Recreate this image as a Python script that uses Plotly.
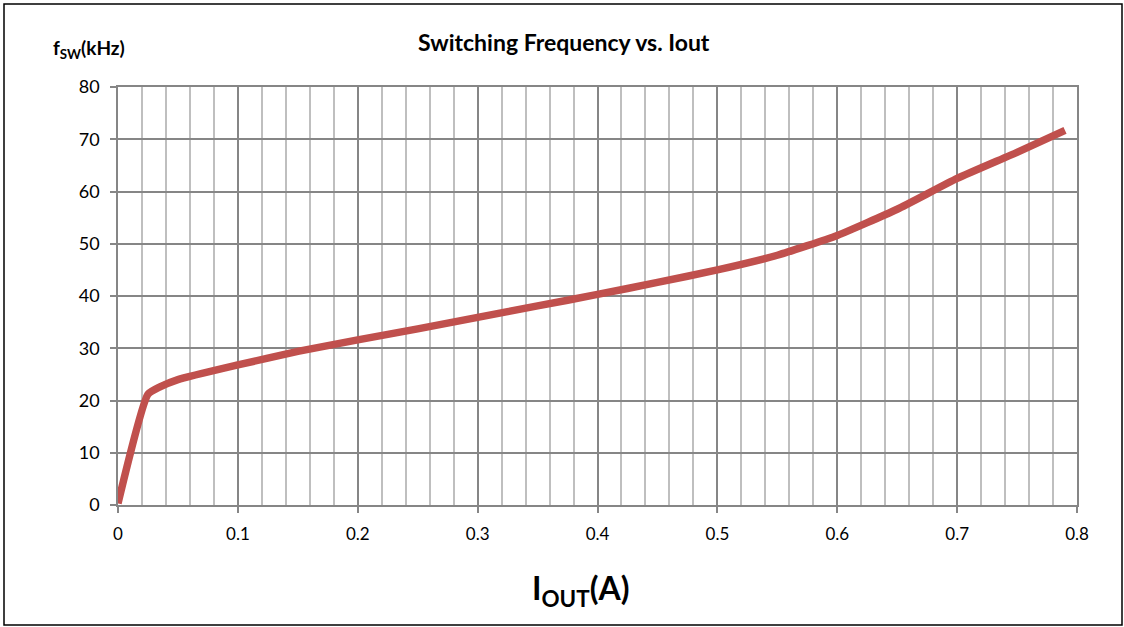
import plotly.graph_objects as go

# Data
iout_a = [0.0, 0.025, 0.035, 0.05, 0.1, 0.15, 0.2, 0.25, 0.3, 0.35, 0.4, 0.45,
          0.5, 0.55, 0.6, 0.65, 0.7, 0.75, 0.79]
fsw_khz = [0.3, 21.2, 22.6, 24.0, 26.8, 29.4, 31.6, 33.7, 35.9, 38.1, 40.3, 42.6,
           45.0, 47.8, 51.6, 56.6, 62.5, 67.5, 71.7]

x_tick_vals = [0, 0.1, 0.2, 0.3, 0.4, 0.5, 0.6, 0.7, 0.8]
x_tick_text = ["0", "0.1", "0.2", "0.3", "0.4", "0.5", "0.6", "0.7", "0.8"]
y_tick_vals = [0, 10, 20, 30, 40, 50, 60, 70, 80]

title_text = "<b>Switching Frequency vs. Iout</b>"
y_label = "<b>f<sub>SW</sub>(kHz)</b>"
x_label = "<b>I<sub>OUT</sub>(A)</b>"

FONT = "Lato, 'Open Sans', sans-serif"
MAJOR = "#868686"
MINOR = "#BFBFBF"

fig = go.Figure()
fig.add_trace(go.Scatter(
    x=iout_a, y=fsw_khz, mode="lines",
    line=dict(color="#C0504D", width=7.5, shape="spline", smoothing=0.5),
    hoverinfo="x+y", showlegend=False,
))

W, H = 1124, 627
L, R, T, B = 118, 47, 87, 122
pw, ph = W - L - R, H - T - B

def px(xp):
    return (xp - L) / pw

def py(yp):
    return (H - B - yp) / ph

fig.update_layout(
    width=W, height=H,
    margin=dict(l=L, r=R, t=T, b=B),
    paper_bgcolor="white", plot_bgcolor="white",
    font=dict(family=FONT, size=17, color="#000000"),
    xaxis=dict(
        range=[0, 0.8], tickvals=x_tick_vals, ticktext=x_tick_text,
        showgrid=True, gridcolor=MAJOR, gridwidth=1.5,
        minor=dict(dtick=0.02, tick0=0, showgrid=True, gridcolor=MINOR, gridwidth=1.5),
        showline=True, linecolor=MAJOR, linewidth=1.5, mirror=True,
        ticks="outside", ticklen=6, tickcolor=MAJOR, tickwidth=1.5,
        ticklabelstandoff=7,
        zeroline=False, fixedrange=True,
        tickfont=dict(family=FONT, size=17, color="#000"),
    ),
    yaxis=dict(
        range=[0, 80], tickvals=y_tick_vals,
        showgrid=True, gridcolor=MAJOR, gridwidth=1.5,
        showline=True, linecolor=MAJOR, linewidth=1.5, mirror=True,
        ticks="outside", ticklen=6, tickcolor=MAJOR, tickwidth=1.5,
        ticklabelstandoff=7,
        zeroline=False, fixedrange=True,
        tickfont=dict(family=FONT, size=18, color="#000"),
    ),
    annotations=[
        dict(text=title_text, xref="paper", yref="paper", x=px(564), y=py(42),
             showarrow=False, xanchor="center", yanchor="middle",
             font=dict(family=FONT, size=23, color="#000")),
        dict(text=y_label, xref="paper", yref="paper", x=px(51), y=py(49),
             showarrow=False, xanchor="left", yanchor="middle",
             font=dict(family=FONT, size=19, color="#000")),
        dict(text=x_label, xref="paper", yref="paper", x=px(580), y=py(590),
             showarrow=False, xanchor="center", yanchor="middle",
             font=dict(family=FONT, size=32, color="#000")),
    ],
    shapes=[
        dict(type="rect", xref="paper", yref="paper",
             x0=px(4), x1=px(1122), y0=py(625), y1=py(4),
             line=dict(color="#000000", width=1.5), layer="below"),
    ],
)

fig.write_html(
    "out.html",
    config={"displayModeBar": False},
    post_script="document.body.style.margin='0';document.body.style.overflow='hidden';",
)
